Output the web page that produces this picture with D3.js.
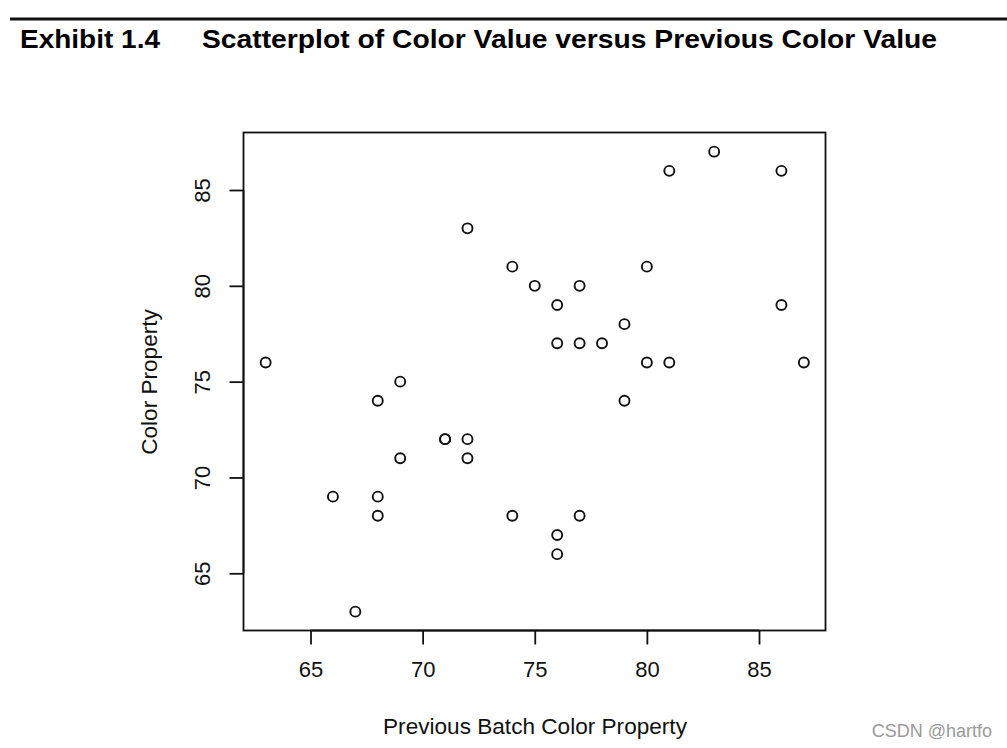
<!DOCTYPE html>
<html><head><meta charset="utf-8">
<script src="https://cdn.jsdelivr.net/npm/d3@7"></script>
<style>body{margin:0;background:#fff}svg{display:block}</style>
</head><body>
<script>
const prevColor = [63,66,67,68,68,68,69,69,71,71,72,72,72,74,74,75,76,76,76,76,77,77,77,78,79,79,80,80,81,81,83,86,86,87];
const color     = [76,69,63,74,69,68,75,71,72,72,83,72,71,81,68,80,79,77,67,66,80,77,68,77,78,74,81,76,86,76,87,86,79,76];
const xTicks = [65,70,75,80,85];
const yTicks = [65,70,75,80,85];
const titleLeft = "Exhibit 1.4";
const titleRight = "Scatterplot of Color Value versus Previous Color Value";
const xLabel = "Previous Batch Color Property";
const yLabel = "Color Property";

const W = 1007, H = 748;
const svg = d3.select("body").append("svg").attr("width", W).attr("height", H);
const font = "'Liberation Sans', Arial, Helvetica, sans-serif";

// header rule and title
svg.append("line").attr("x1",10).attr("x2",W).attr("y1",19).attr("y2",19)
  .attr("stroke","#111").attr("stroke-width",3);
svg.append("text").attr("x",20).attr("y",48).text(titleLeft)
  .attr("font-family",font).attr("font-weight","bold").attr("font-size",26)
  .attr("textLength",140).attr("lengthAdjust","spacingAndGlyphs").attr("fill","#000");
svg.append("text").attr("x",202).attr("y",48).text(titleRight)
  .attr("font-family",font).attr("font-weight","bold").attr("font-size",26)
  .attr("textLength",735).attr("lengthAdjust","spacingAndGlyphs").attr("fill","#000");

const box = {l:243.5, r:825.5, t:132.5, b:630.5};
const x = d3.scaleLinear().domain([65,85]).range([310.5,759]);
const y = d3.scaleLinear().domain([65,85]).range([573.3,190]);

const g = svg.append("g");
g.append("rect").attr("x",box.l).attr("y",box.t).attr("width",box.r-box.l).attr("height",box.b-box.t)
  .attr("fill","none").attr("stroke","#111").attr("stroke-width",1.8);

const xAxis = d3.axisBottom(x).tickValues(xTicks).tickSize(14).tickPadding(17).tickFormat(d3.format("d"));
const gx = g.append("g").attr("transform",`translate(0,${box.b})`).call(xAxis);
gx.select(".domain").attr("d",`M${x(65)},0H${x(85)}`).attr("stroke","#111").attr("stroke-width",1.8);
gx.selectAll(".tick line").attr("stroke","#111").attr("stroke-width",1.8);
gx.selectAll(".tick text").attr("font-family",font).attr("font-size",22).attr("fill","#111");

const yAxis = d3.axisLeft(y).tickValues(yTicks).tickSize(14).tickPadding(0).tickFormat(d3.format("d"));
const gy = g.append("g").attr("transform",`translate(${box.l},0)`).call(yAxis);
gy.select(".domain").attr("d",`M0,${y(65)}V${y(85)}`).attr("stroke","#111").attr("stroke-width",1.8);
gy.selectAll(".tick line").attr("stroke","#111").attr("stroke-width",1.8);
gy.selectAll(".tick text").attr("font-family",font).attr("font-size",22).attr("fill","#111")
  .attr("text-anchor","middle").attr("x",0).attr("dy",0)
  .attr("transform","translate(-41,0) rotate(-90)").attr("dominant-baseline","central");

// points
g.selectAll("circle.pt").data(prevColor).join("circle").attr("class","pt")
  .attr("cx",(d)=>x(d)).attr("cy",(d,i)=>y(color[i])).attr("r",5)
  .attr("fill","none").attr("stroke","#111").attr("stroke-width",1.9);

// axis titles
svg.append("text").attr("x",535).attr("y",734).attr("text-anchor","middle").text(xLabel)
  .attr("font-family",font).attr("font-size",22.6).attr("fill","#111");
svg.append("text").attr("transform",`translate(157,${382}) rotate(-90)`).attr("text-anchor","middle").text(yLabel)
  .attr("font-family",font).attr("font-size",22.6).attr("fill","#111");

// watermark
svg.append("text").attr("x",992).attr("y",737).attr("text-anchor","end").text("CSDN @hartfo")
  .attr("font-family",font).attr("font-size",18).attr("fill","#9a9a9a");
</script>
</body></html>
